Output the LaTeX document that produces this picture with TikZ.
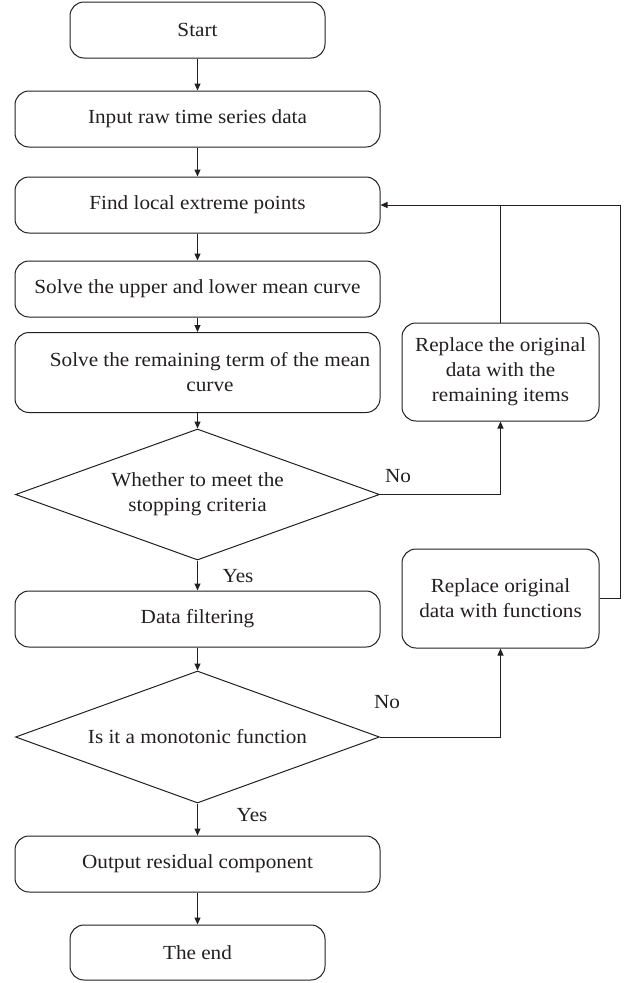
\documentclass[tikz,border=0pt]{standalone}
\usepackage{fontspec}
\setmainfont{Liberation Serif}[FakeStretch=1.06]
\usetikzlibrary{arrows.meta,shapes.geometric}
\definecolor{ink}{HTML}{231F20}
\begin{document}
\begin{tikzpicture}[x=1pt,y=-1pt,
  every node/.style={font=\fontsize{20}{25}\selectfont, text=ink},
  stepbox/.style={draw=ink, line width=1pt, rounded corners=14pt,
    minimum height=56pt, inner sep=0pt, align=center},
  wide/.style={stepbox, minimum width=365pt},
  narrow/.style={stepbox, minimum width=255pt},
  side/.style={stepbox, minimum width=197pt, minimum height=98pt},
  choice/.style={draw=ink, line width=1pt, diamond, aspect=2.78,
    minimum width=364pt, minimum height=131pt, inner sep=0pt, align=center},
  flow/.style={draw=ink, line width=1pt, -{Triangle[length=7pt,width=6pt]}},
  link/.style={draw=ink, line width=1pt}
]
\useasboundingbox (0,0) rectangle (631,983);

% main column
\node[narrow] (start)  at (197.5,30)    {Start};
\node[wide]   (input)  at (197.5,119)   {Input raw time series data};
\node[wide]   (find)   at (197.5,205)   {Find local extreme points};
\node[wide]   (upper)  at (197.5,289)   {Solve the upper and lower mean curve};
\node[wide, minimum height=80pt,
      label={[align=center, xshift=12.5pt]center:{Solve the remaining term of the mean\\curve}}]
              (remain) at (197.5,372.5) {};
\node[choice] (stop)   at (197.5,494.5) {Whether to meet the\\stopping criteria};
\node[wide]   (filter) at (197.5,619)   {Data filtering};
\node[choice, minimum height=132pt]
              (mono)   at (197.5,737)   {Is it a monotonic function};
\node[wide]   (output) at (197.5,864)   {Output residual component};
\node[narrow, minimum height=55pt]
              (finish) at (197.5,952.5) {The end};

% side boxes
\node[side]   (rep1)   at (500.5,372)   {Replace the original\\data with the\\remaining items};
\node[side, minimum height=99pt]
              (rep2)   at (500.5,598.5) {Replace original\\data with functions};

\coordinate (rail) at (620,0);

% forward flow
\draw[flow] (start)  -- (input);
\draw[flow] (input)  -- (find);
\draw[flow] (find)   -- (upper);
\draw[flow] (upper)  -- (remain);
\draw[flow] (remain) -- (stop);
\draw[flow] (stop)   -- (filter);
\draw[flow] (filter) -- (mono);
\draw[flow] (mono)   -- (output);
\draw[flow] (output) -- (finish);

\node (yes1) at (238,576) {Yes};
\node (yes2) at (252,815) {Yes};

% "No" branches
\draw[flow] (stop.east) -| (rep1.south);
\node (no1) at (398,476) {No};
\draw[flow] (mono.east) -| (rep2.south);
\node (no2) at (387,702) {No};

% feedback loop to the extreme-point search
\draw[flow] (rep2.east) -| (rail |- find.east) -- (find.east);
\draw[link] (rep1.north) -- (rep1.north |- find.east);
\end{tikzpicture}
\end{document}
